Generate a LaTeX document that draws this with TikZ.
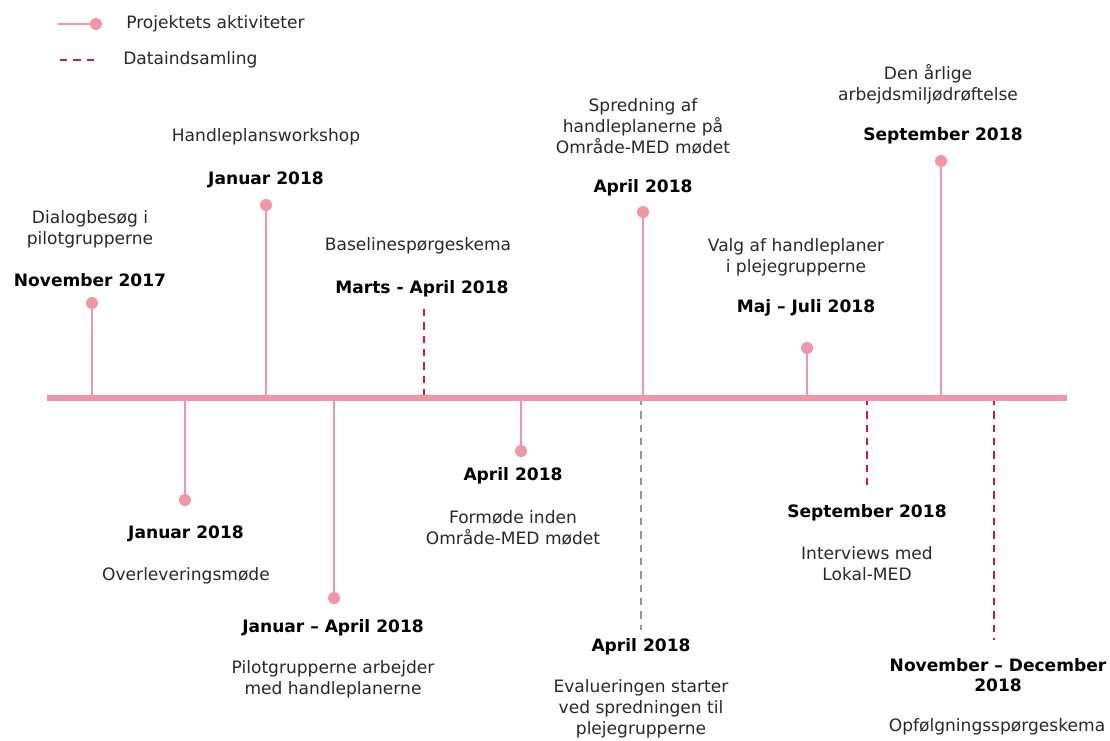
\documentclass[tikz,border=0pt]{standalone}
\usepackage{fontspec}
\setmainfont{DejaVu Sans}
\definecolor{pinkc}{RGB}{240,150,166}
\definecolor{redc}{RGB}{200,30,60}
\definecolor{grayc}{RGB}{150,150,150}
\definecolor{txt}{RGB}{40,40,40}
\tikzset{
  axisline/.style={pinkc, line width=4.5pt},
  stem/.style={pinkc, line width=1.6pt},
  dot/.style={circle, fill=pinkc, inner sep=0pt, minimum size=9pt},
  datadash/.style={redc, line width=1.8pt, dash pattern=on 5.5pt off 4.5pt},
  evaldash/.style={grayc, line width=1.6pt, dash pattern=on 5.5pt off 4.5pt},
  lbl/.style={text=txt, align=center, font=\fontsize{12.8}{15.75}\selectfont, inner sep=0pt},
  dte/.style={text=black, align=center, font=\fontsize{12.8}{15}\selectfont\bfseries, inner sep=0pt},
  leg/.style={text=txt, anchor=west, font=\fontsize{12.8}{14}\selectfont, inner sep=0pt}
}
\begin{document}
\begin{tikzpicture}[x=0.75pt, y=-0.75pt]
\useasboundingbox (0,0) rectangle (1110,740);
% legend
\coordinate (lg1) at (58,24);
\node[dot] (lgd) at (96,24) {};
\draw[stem, line width=2.2pt] (lg1) -- (lgd);
\node[leg] (lgt1) at (126,24) {Projektets aktiviteter};
\coordinate (lg2a) at (60,60);
\coordinate (lg2b) at (100,60);
\draw[datadash] (lg2a) -- (lg2b);
\node[leg] (lgt2) at (123,60) {Dataindsamling};
% axis
\coordinate (L) at (47,398);
\coordinate (R) at (1067,398);
% axis points
\coordinate (a1) at (92,398);
\coordinate (a2) at (266,398);
\coordinate (a3) at (424,398);
\coordinate (a4) at (643,398);
\coordinate (a5) at (807,398);
\coordinate (a6) at (941,398);
\coordinate (a7) at (185,398);
\coordinate (a8) at (334,398);
\coordinate (a9) at (521,398);
\coordinate (a10) at (641,398);
\coordinate (a11) at (867,398);
\coordinate (a12) at (994,398);
% dots
\node[dot] (d1) at (92,303) {};
\node[dot] (d2) at (266,205) {};
\node[dot] (d4) at (643,212) {};
\node[dot] (d5) at (807,348) {};
\node[dot] (d6) at (941,161) {};
\node[dot] (d7) at (185,500) {};
\node[dot] (d8) at (334,598) {};
\node[dot] (d9) at (521,451) {};
\coordinate (e3) at (424,309);
\coordinate (e10) at (641,630);
\coordinate (e11) at (867,488);
\coordinate (e12) at (994,640);
% stems
\foreach \i in {1,2,4,5,6,7,8,9} \draw[stem] (a\i) -- (d\i);
\draw[datadash] (e3) -- (a3);
\draw[evaldash] (a10) -- (e10);
\draw[datadash] (a11) -- (e11);
\draw[datadash] (a12) -- (e12);
\draw[axisline] (L) -- (R);
% labels above
\node[lbl] (t1) at (90,229) {Dialogbesøg i\\pilotgrupperne};
\node[dte] (b1) at (90,280) {November 2017};
\node[lbl] (t2) at (266,137) {Handleplansworkshop};
\node[dte] (b2) at (266,180) {Januar 2018};
\node[lbl] (t3) at (418,246) {Baselinespørgeskema};
\node[dte] (b3) at (422,289) {Marts - April 2018};
\node[lbl] (t4) at (643,126) {Spredning af\\handleplanerne på\\Område-MED mødet};
\node[dte] (b4) at (643,188) {April 2018};
\node[lbl] (t5) at (796,257) {Valg af handleplaner\\i plejegrupperne};
\node[dte] (b5) at (806,308) {Maj – Juli 2018};
\node[lbl] (t6) at (928,84) {Den årlige\\arbejdsmiljødrøftelse};
\node[dte] (b6) at (943,136) {September 2018};
% labels below
\node[dte] (b7) at (186,534) {Januar 2018};
\node[lbl] (t7) at (186,576) {Overleveringsmøde};
\node[dte] (b8) at (333,628) {Januar – April 2018};
\node[lbl] (t8) at (333,679) {Pilotgrupperne arbejder\\med handleplanerne};
\node[dte] (b9) at (513,476) {April 2018};
\node[lbl] (t9) at (513,528) {Formøde inden\\Område-MED mødet};
\node[dte] (b10) at (641,647) {April 2018};
\node[lbl] (t10) at (641,709) {Evalueringen starter\\ved spredningen til\\plejegrupperne};
\node[dte] (b11) at (867,513) {September 2018};
\node[lbl] (t11) at (867,564) {Interviews med\\Lokal-MED};
\node[dte] (b12) at (998,675) {November – December\\2018};
\node[lbl] (t12) at (997,727) {Opfølgningsspørgeskema};
\end{tikzpicture}
\end{document}
